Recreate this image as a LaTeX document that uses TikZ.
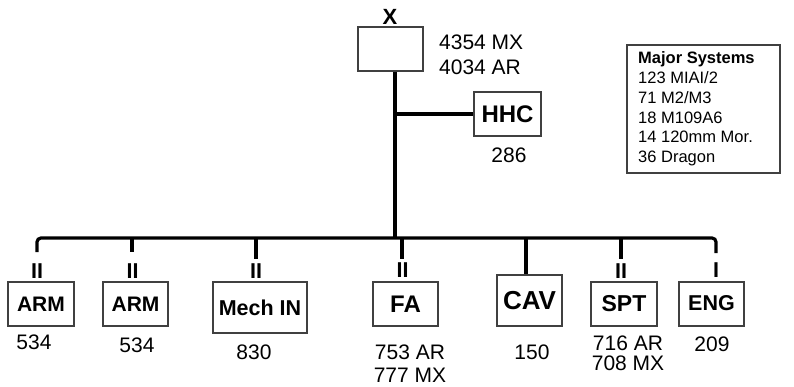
\documentclass[tikz,border=0pt]{standalone}
\usepackage{fontspec}
\setmainfont{Liberation Sans}
\begin{document}
\begin{tikzpicture}[x=1pt,y=-1pt,
  box/.style={draw=black!75,line width=1.2pt,inner sep=0pt,font=\bfseries},
  conn/.style={line width=3.2pt,black},
  num/.style={inner sep=0pt,font=\fontsize{21}{21}\selectfont},
  echelon/.style={inner sep=0pt,font=\fontsize{21.5}{21.5}\selectfont\bfseries}]
\useasboundingbox (0,0) rectangle (794,387);
% top unit
\node[box,minimum width=65pt,minimum height=44pt] (xbox) at (390.5,49) {};
\node[inner sep=0pt,font=\fontsize{22}{22}\selectfont\bfseries] (xlab) at (390,17) {X};
\node[num,anchor=west] (mx) at (439,42) {4354 MX};
\node[num,anchor=west] (ar) at (439,67.5) {4034 AR};
% HHC
\node[box,minimum width=67pt,minimum height=44pt,font=\fontsize{24}{24}\selectfont\bfseries] (hhc) at (507.5,114) {HHC};
\node[num] (hhcn) at (509,155) {286};
% legend
\node[draw=black!75,line width=1.2pt,minimum width=153pt,minimum height=128pt,inner sep=0pt] (legend) at (703.5,109) {};
\node[inner sep=0pt,anchor=north west,align=left,font=\fontsize{16.5}{19.8}\selectfont] (legtxt) at (638,51.5)
  {\textbf{Major Systems}\\123 MIAI/2\\71 M2/M3\\18 M109A6\\14 120mm Mor.\\36 Dragon};
% subordinate boxes
\node[box,minimum width=66pt,minimum height=44pt,font=\fontsize{21}{21}\selectfont\bfseries] (arm1) at (41,304) {ARM};
\node[box,minimum width=65pt,minimum height=44pt,font=\fontsize{21}{21}\selectfont\bfseries] (arm2) at (135.5,304) {ARM};
\node[box,minimum width=94pt,minimum height=51pt,font=\fontsize{21.5}{21.5}\selectfont\bfseries] (mech) at (260,307.5) {Mech IN};
\node[box,minimum width=65pt,minimum height=44pt,font=\fontsize{24}{24}\selectfont\bfseries] (fa) at (405.5,304) {FA};
\node[box,minimum width=65pt,minimum height=51pt,font=\fontsize{26}{26}\selectfont\bfseries] (cav) at (529.5,300.5) {CAV};
\node[box,minimum width=66pt,minimum height=44pt,font=\fontsize{23}{23}\selectfont\bfseries] (spt) at (624,304) {\raisebox{-2pt}{SPT}};
\node[box,minimum width=65pt,minimum height=44pt,font=\fontsize{21.5}{21.5}\selectfont\bfseries] (eng) at (711.5,304) {\raisebox{3pt}{ENG}};
% strengths
\node[num] (n1) at (34,342) {534};
\node[num] (n2) at (137,345) {534};
\node[num] (n3) at (254,352) {830};
\node[num] (n4a) at (410,352) {753 AR};
\node[num] (n4b) at (410,375) {777 MX};
\node[num] (n5) at (532,352) {150};
\node[num] (n6a) at (628,343.5) {716 AR};
\node[num] (n6b) at (628,363) {708 MX};
\node[num] (n7) at (712,344.5) {209};
% echelon marks
\node[echelon] (e1) at (37,271.5) {II};
\node[echelon] (e2) at (132.5,271.5) {II};
\node[echelon] (e3) at (256,271) {II};
\node[echelon] (e4) at (402.5,270.5) {II};
\node[echelon] (e6) at (621,271) {II};
\node[echelon] (e7) at (716,270.5) {I};
% connector coordinates
\coordinate (bj) at (395,238);
\coordinate (d1) at (37,252);
\coordinate (d2) at (132,252);
\coordinate (d3) at (256,259);
\coordinate (d4) at (402,259);
\coordinate (cx) at (526,0);
\coordinate (d6) at (621,259);
\coordinate (d7) at (716,253);
% connectors
\draw[conn] (xbox.south -| bj) -- (bj);
\draw[conn] (hhc.west -| bj) -- (hhc.west);
\draw[conn,rounded corners=4pt] (d1) -- (d1 |- bj) -- (d7 |- bj) -- (d7);
\draw[conn] (d2 |- bj) -- (d2);
\draw[conn] (d3 |- bj) -- (d3);
\draw[conn] (d4 |- bj) -- (d4);
\draw[conn] (cx |- bj) -- (cav.north -| cx);
\draw[conn] (d6 |- bj) -- (d6);
\end{tikzpicture}
\end{document}
